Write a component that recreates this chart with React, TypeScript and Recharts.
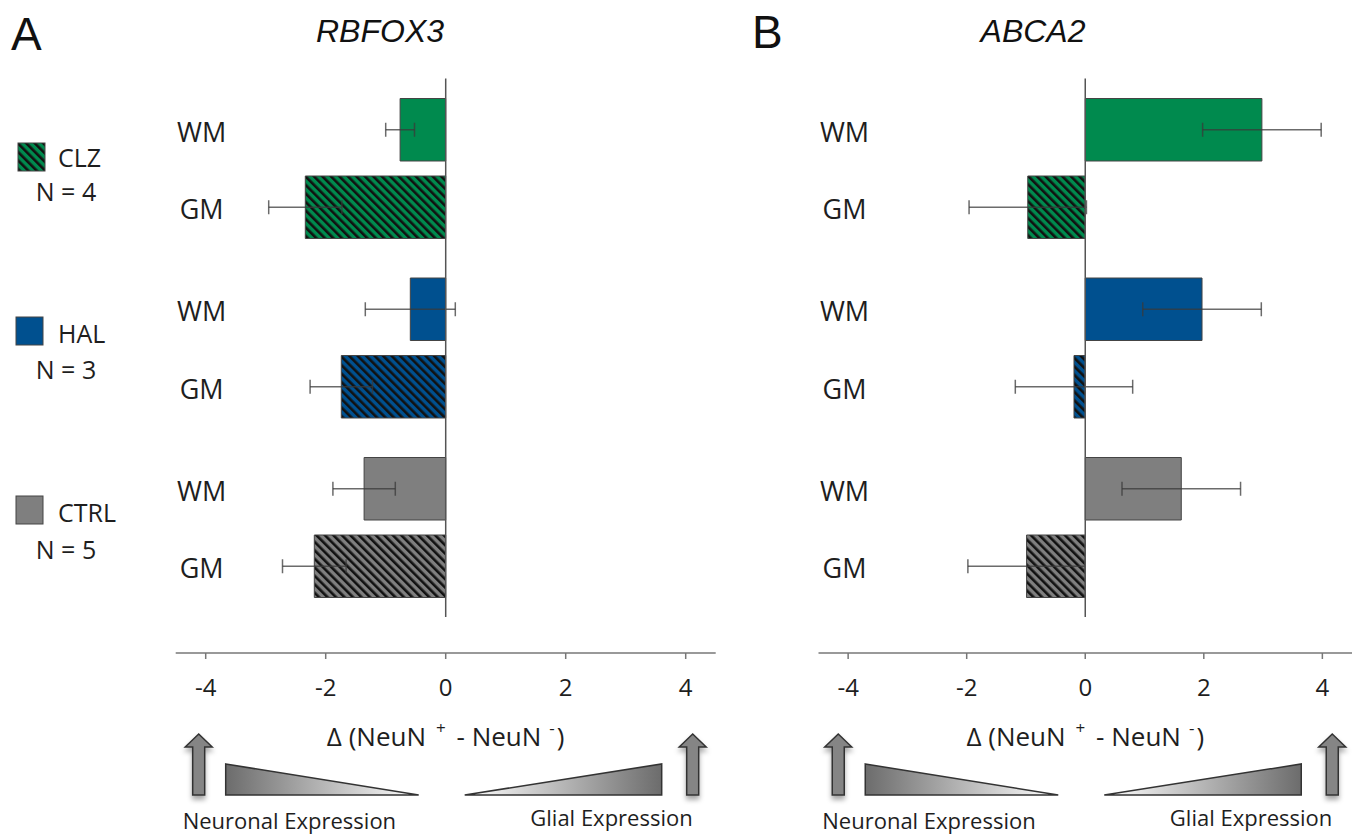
import React from 'react'
import {
  BarChart,
  Bar,
  XAxis,
  YAxis,
  Cell,
  ErrorBar,
  LabelList,
  ReferenceLine,
  Label,
} from 'recharts'

const FONT = "'Open Sans', 'Noto Sans', sans-serif"
const TITLE_FONT = "'Liberation Sans', Arial, sans-serif"

const groups = ['CLZ', 'HAL', 'CTRL']
const groupN = ['N = 4', 'N = 3', 'N = 5']
const groupColors = ['#008a4e', '#00508f', '#7f7f7f']
const hatchIds = ['hatch-clz', 'hatch-hal', 'hatch-ctrl']

const xTicks = [-4, -2, 0, 2, 4]
const xDomain: [number, number] = [-4.5, 4.5]

// RBFOX3
const rbfoxWM = [-0.76, -0.59, -1.36]
const rbfoxWMErr = [0.24, 0.75, 0.52]
const rbfoxGM = [-2.34, -1.74, -2.19]
const rbfoxGMErr = [0.61, 0.52, 0.53]

// ABCA2
const abcaWM = [2.98, 1.97, 1.62]
const abcaWMErr = [1.0, 1.0, 1.0]
const abcaGM = [-0.97, -0.19, -0.99]
const abcaGMErr = [0.99, 0.99, 0.99]

const PLOT_TOP = 78.5
const AXIS_H = 182
const PAD_BOTTOM = 36

const makeRows = (wm: number[], wmErr: number[], gm: number[], gmErr: number[]) =>
  groups.map((g, i) => ({ group: g, wm: wm[i], wmErr: wmErr[i], gm: gm[i], gmErr: gmErr[i] }))

const rbfoxRows = makeRows(rbfoxWM, rbfoxWMErr, rbfoxGM, rbfoxGMErr)
const abcaRows = makeRows(abcaWM, abcaWMErr, abcaGM, abcaGMErr)

function ZeroLine(p: any) {
  const top = Math.min(p.y1, p.y2)
  const bottom = Math.max(p.y1, p.y2) - PAD_BOTTOM
  return <line x1={p.x1} x2={p.x2} y1={top} y2={bottom} stroke="#555" strokeWidth={1.5} />
}

const rowLabel = (text: string, x: number) => (props: any) => {
  const vb = props.viewBox ?? props
  if (vb == null || vb.y == null) return null
  const cy = vb.y + vb.height / 2
  return (
    <text x={x} y={cy + 12} textAnchor="middle" fontFamily={FONT} fontSize={27} fill="#1e1e1e">
      {text}
    </text>
  )
}

function AxisDecor(props: any) {
  const vb = props.viewBox
  if (!vb) return null
  const cx = vb.x + vb.width / 2
  const ay = vb.y
  const arrow = (tx: number) =>
    `M${tx},${ay + 81} L${tx + 13.5},${ay + 94} L${tx + 6},${ay + 94} L${tx + 6},${ay + 142} ` +
    `L${tx - 6},${ay + 142} L${tx - 6},${ay + 94} L${tx - 13.5},${ay + 94} Z`
  return (
    <g>
      <text x={cx} y={ay + 93} textAnchor="middle" fontFamily={FONT} fontSize={26} fill="#1e1e1e">
        {'Δ (NeuN'}
        <tspan fontSize={17} dx={10} dy={-12}>{'+'}</tspan>
        <tspan dx={4} dy={12}>{' - NeuN'}</tspan>
        <tspan fontSize={17} dx={8} dy={-12}>{'-'}</tspan>
        <tspan dx={2} dy={12}>{')'}</tspan>
      </text>
      <path d={arrow(cx - 247)} fill="#858585" stroke="#333" strokeWidth={1.5} filter="url(#arrowShadow)" />
      <path d={arrow(cx + 247)} fill="#858585" stroke="#333" strokeWidth={1.5} filter="url(#arrowShadow)" />
      <polygon
        points={`${cx - 220},${ay + 111} ${cx - 27},${ay + 142} ${cx - 220},${ay + 142}`}
        fill="url(#gradNeuronal)"
        stroke="#333"
        strokeWidth={1.5}
      />
      <polygon
        points={`${cx + 19},${ay + 142} ${cx + 216},${ay + 111} ${cx + 216},${ay + 142}`}
        fill="url(#gradGlial)"
        stroke="#333"
        strokeWidth={1.5}
      />
      <text x={cx - 263} y={ay + 176} fontFamily={FONT} fontSize={22} fill="#1e1e1e">
        Neuronal Expression
      </text>
      <text x={cx + 247} y={ay + 173} textAnchor="end" fontFamily={FONT} fontSize={22} fill="#1e1e1e">
        Glial Expression
      </text>
    </g>
  )
}

type PanelProps = {
  left: number
  width: number
  marginLeft: number
  marginRight: number
  rows: ReturnType<typeof makeRows>
}

function Panel({ left, width, marginLeft, marginRight, rows }: PanelProps) {
  return (
    <div style={{ position: 'absolute', left, top: 0 }}>
      <BarChart
        width={width}
        height={835}
        data={rows}
        layout="vertical"
        margin={{ top: PLOT_TOP, right: marginRight, left: marginLeft, bottom: 0 }}
        barSize={62.5}
        barGap={15}
      >
        <XAxis
          type="number"
          domain={xDomain}
          ticks={xTicks}
          interval={0}
          height={AXIS_H}
          axisLine={{ stroke: '#777', strokeWidth: 1.5 }}
          tickLine={{ stroke: '#777', strokeWidth: 1.5 }}
          tickSize={6}
          tickMargin={20}
          tick={{ fontSize: 24, fill: '#1e1e1e', fontFamily: FONT }}
        >
          <Label content={AxisDecor} />
        </XAxis>
        <YAxis type="category" dataKey="group" hide padding={{ top: 0, bottom: PAD_BOTTOM }} />
        <Bar dataKey="wm" isAnimationActive={false} stroke="#444" strokeWidth={1}>
          {rows.map((r, i) => (
            <Cell key={r.group} fill={groupColors[i]} />
          ))}
          <ErrorBar dataKey="wmErr" direction="x" width={7} stroke="#3a3a3a" strokeOpacity={0.75} strokeWidth={1.5} />
          <LabelList content={rowLabel('WM', marginLeft + 26)} />
        </Bar>
        <Bar dataKey="gm" isAnimationActive={false} stroke="#444" strokeWidth={1}>
          {rows.map((r, i) => (
            <Cell key={r.group} fill={`url(#${hatchIds[i]})`} />
          ))}
          <ErrorBar dataKey="gmErr" direction="x" width={7} stroke="#3a3a3a" strokeOpacity={0.75} strokeWidth={1.5} />
          <LabelList content={rowLabel('GM', marginLeft + 26)} />
        </Bar>
        <ReferenceLine x={0} stroke="#555" strokeWidth={1.5} shape={ZeroLine} />
      </BarChart>
    </div>
  )
}

function Overlay() {
  const swatchY = [143, 317, 496]
  const nameY = [167, 343, 522]
  const nY = [201, 379, 559]
  return (
    <svg width={1360} height={835} style={{ position: 'absolute', left: 0, top: 0 }}>
      <defs>
        {hatchIds.map((id, i) => (
          <pattern
            key={id}
            id={id}
            patternUnits="userSpaceOnUse"
            width={6}
            height={6}
            patternTransform="rotate(-45)"
          >
            <rect width={6} height={6} fill={groupColors[i]} />
            <rect width={2.6} height={6} fill="#111" />
          </pattern>
        ))}
        <linearGradient id="gradNeuronal" x1="0" y1="0" x2="1" y2="0">
          <stop offset="0" stopColor="#6c6c6c" />
          <stop offset="1" stopColor="#ffffff" />
        </linearGradient>
        <linearGradient id="gradGlial" x1="0" y1="0" x2="1" y2="0">
          <stop offset="0" stopColor="#ffffff" />
          <stop offset="1" stopColor="#6c6c6c" />
        </linearGradient>
        <filter id="arrowShadow" x="-60%" y="-30%" width="220%" height="160%">
          <feDropShadow dx="0" dy="4" stdDeviation="2.5" floodColor="#000" floodOpacity="0.35" />
        </filter>
      </defs>

      <text x={11} y={50} fontFamily={TITLE_FONT} fontSize={46} fill="#111">A</text>
      <text x={380} y={42} textAnchor="middle" fontFamily={TITLE_FONT} fontStyle="italic" fontSize={32} fill="#111">
        RBFOX3
      </text>
      <text x={752} y={48} fontFamily={TITLE_FONT} fontSize={46} fill="#111">B</text>
      <text x={1033} y={42} textAnchor="middle" fontFamily={TITLE_FONT} fontStyle="italic" fontSize={32} fill="#111">
        ABCA2
      </text>

      {groups.map((g, i) => (
        <g key={g}>
          <rect
            x={i === 0 ? 18 : 16}
            y={swatchY[i]}
            width={27}
            height={28}
            fill={i === 0 ? `url(#${hatchIds[0]})` : groupColors[i]}
            stroke="#444"
            strokeWidth={1}
          />
          <text x={58} y={nameY[i]} fontFamily={FONT} fontSize={25} fill="#1e1e1e">
            {g}
          </text>
          <text x={66} y={nY[i]} textAnchor="middle" fontFamily={FONT} fontSize={25} fill="#1e1e1e">
            {groupN[i]}
          </text>
        </g>
      ))}
    </svg>
  )
}

export default function App() {
  return (
    <div style={{ position: 'absolute', left: 0, top: 0, width: 1360, height: 835, background: '#fff' }}>
      <Overlay />
      <Panel left={0} width={740} marginLeft={175.7} marginRight={24.3} rows={rbfoxRows} />
      <Panel left={740} width={620} marginLeft={78.5} marginRight={8} rows={abcaRows} />
    </div>
  )
}
